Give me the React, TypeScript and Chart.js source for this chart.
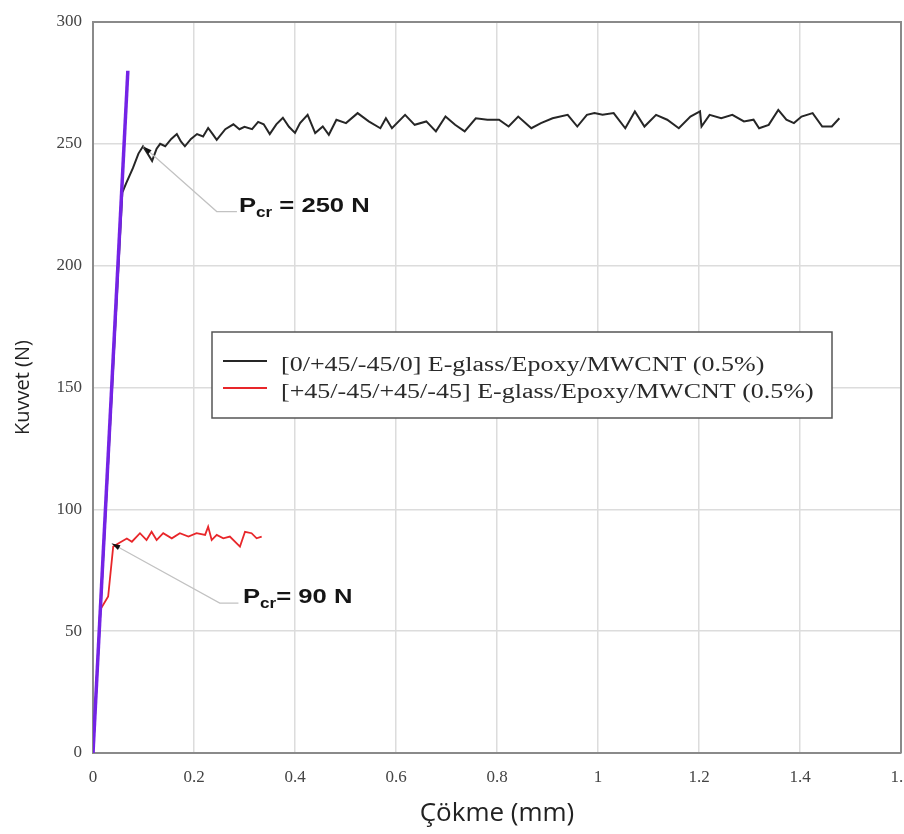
import { useEffect, useRef } from 'react';
import { Chart, registerables } from 'chart.js';

Chart.register(...registerables);

// ---- Data ----
const seriesLabels = [
  '[0/+45/-45/0] E-glass/Epoxy/MWCNT (0.5%)',
  '[+45/-45/+45/-45] E-glass/Epoxy/MWCNT (0.5%)',
];

const blackX = [
  0, 0.058, 0.066, 0.079, 0.09, 0.099, 0.108, 0.117, 0.126, 0.133, 0.143, 0.155, 0.166, 0.174, 0.182,
  0.194, 0.206, 0.218, 0.228, 0.237, 0.245, 0.262, 0.278, 0.29, 0.3, 0.315, 0.327, 0.338, 0.35, 0.363,
  0.376, 0.388, 0.4, 0.41, 0.425, 0.44, 0.455, 0.467, 0.482, 0.501, 0.524, 0.546, 0.569, 0.58, 0.592,
  0.618, 0.637, 0.66, 0.679, 0.698, 0.717, 0.736, 0.758, 0.781, 0.804, 0.823, 0.842, 0.868, 0.887,
  0.91, 0.94, 0.959, 0.978, 0.993, 1.009, 1.031, 1.054, 1.073, 1.092, 1.115, 1.137, 1.16, 1.183,
  1.202, 1.205, 1.221, 1.244, 1.266, 1.289, 1.308, 1.319, 1.338, 1.357, 1.373, 1.388, 1.403, 1.425,
  1.444, 1.463, 1.478,
];
const blackY = [
  0, 230, 234, 240, 246, 249, 246, 243, 248, 250, 249, 252, 254, 251, 249,
  252, 254, 253, 256.5, 254, 251.6, 256, 258, 256, 257, 256, 259, 258, 254, 258,
  260.7, 257, 254.5, 258.5, 261.9, 254.4, 257.1, 253.7, 259.9, 258.5, 262.6, 259.2, 256.4, 260.5, 256.4,
  261.9, 257.8, 259.2, 255.1, 261.2, 257.8, 255.1, 260.5, 259.9, 259.9, 257.1, 261.2, 256.4, 258.5,
  260.5, 261.9, 257.1, 261.9, 262.6, 261.9, 262.6, 256.4, 263.3, 257.1, 261.9, 259.9, 256.4, 261.2,
  263.3, 257.1, 261.9, 260.5, 261.9, 259.2, 259.9, 256.4, 257.8, 263.9, 259.9, 258.5, 261.2, 262.6,
  257.1, 257.1, 260.5,
];

const redX = [
  0, 0.014, 0.03, 0.04, 0.05, 0.067, 0.077, 0.093, 0.106, 0.116, 0.126, 0.139, 0.156, 0.172, 0.189,
  0.205, 0.222, 0.228, 0.235, 0.245, 0.258, 0.271, 0.291, 0.301, 0.314, 0.324, 0.334,
];
const redY = [
  0, 58.7, 64.2, 84.7, 86, 88, 86.7, 90.2, 87.4, 90.8, 87.4, 90.2, 88.1, 90.2, 88.8,
  90.2, 89.5, 92.9, 87.4, 89.5, 88.1, 88.8, 84.7, 90.8, 90.2, 88.1, 88.8,
];

// linear (initial slope) fit line
const fitX = [0, 0.069];
const fitY = [0, 280];

// annotations: P_cr labels with leader lines (data coordinates)
const annMain = ['P', 'P'];
const annSub = ['cr', 'cr'];
const annRest = [' = 250 N', '= 90 N'];
const annTipX = [0.0997, 0.037];
const annTipY = [248.9, 86];
const annElbowX = [0.245, 0.251];
const annElbowY = [222.2, 61.5];
const annEndX = [0.285, 0.288];
const annTextX = [0.289, 0.297];

const toPoints = (xs: number[], ys: number[]) => xs.map((x, i) => ({ x, y: ys[i] }));

const framePlugin = {
  id: 'frame',
  beforeDatasetsDraw(chart: any) {
    const { ctx, chartArea: a } = chart;
    ctx.save();
    ctx.strokeStyle = '#8a8a8a';
    ctx.lineWidth = 2;
    ctx.beginPath();
    ctx.moveTo(a.left, a.top);
    ctx.lineTo(a.right, a.top);
    ctx.lineTo(a.right, a.bottom);
    ctx.stroke();
    ctx.restore();
  },
};

const annotationPlugin = {
  id: 'pcrAnnotations',
  afterDatasetsDraw(chart: any) {
    const { ctx } = chart;
    const xs = chart.scales.x;
    const ys = chart.scales.y;
    for (let i = 0; i < annMain.length; i++) {
      const tx = xs.getPixelForValue(annTipX[i]);
      const ty = ys.getPixelForValue(annTipY[i]);
      const ex = xs.getPixelForValue(annElbowX[i]);
      const ey = ys.getPixelForValue(annElbowY[i]);
      const nx = xs.getPixelForValue(annEndX[i]);
      const lx = xs.getPixelForValue(annTextX[i]);
      ctx.save();
      ctx.strokeStyle = '#c2c2c2';
      ctx.lineWidth = 1.2;
      ctx.beginPath();
      ctx.moveTo(tx, ty);
      ctx.lineTo(ex, ey);
      ctx.lineTo(nx, ey);
      ctx.stroke();
      // arrow head at tip
      const ang = Math.atan2(ty - ey, tx - ex);
      const len = 9;
      ctx.fillStyle = '#111';
      ctx.beginPath();
      ctx.moveTo(tx, ty);
      ctx.lineTo(tx - len * Math.cos(ang - 0.3), ty - len * Math.sin(ang - 0.3));
      ctx.lineTo(tx - len * Math.cos(ang + 0.3), ty - len * Math.sin(ang + 0.3));
      ctx.closePath();
      ctx.fill();
      // label
      ctx.translate(lx, ey);
      ctx.scale(1.22, 1);
      ctx.fillStyle = '#151515';
      ctx.textBaseline = 'alphabetic';
      ctx.textAlign = 'left';
      ctx.font = 'bold 21px "Liberation Sans", Arial, sans-serif';
      ctx.fillText(annMain[i], 0, 0);
      let w = ctx.measureText(annMain[i]).width;
      ctx.font = 'bold 14px "Liberation Sans", Arial, sans-serif';
      ctx.fillText(annSub[i], w, 5);
      w += ctx.measureText(annSub[i]).width;
      ctx.font = 'bold 21px "Liberation Sans", Arial, sans-serif';
      ctx.fillText(annRest[i], w, 0);
      ctx.restore();
    }
  },
};

const legendPlugin = {
  id: 'boxLegend',
  afterDatasetsDraw(chart: any) {
    const { ctx } = chart;
    const box = { left: 212, top: 332, width: 620, height: 86 };
    ctx.save();
    ctx.fillStyle = '#fff';
    ctx.fillRect(box.left, box.top, box.width, box.height);
    ctx.strokeStyle = '#555';
    ctx.lineWidth = 1.5;
    ctx.strokeRect(box.left, box.top, box.width, box.height);
    const entries = chart.data.datasets.filter((d: any) => !d.hideInLegend);
    entries.forEach((d: any, i: number) => {
      const y = box.top + 29 + i * 27;
      ctx.strokeStyle = d.borderColor;
      ctx.lineWidth = 2;
      ctx.beginPath();
      ctx.moveTo(box.left + 11, y);
      ctx.lineTo(box.left + 55, y);
      ctx.stroke();
      ctx.save();
      ctx.translate(box.left + 69, y + 10);
      ctx.scale(1.3, 1);
      ctx.font = '20px "Liberation Serif", "Times New Roman", serif';
      ctx.fillStyle = '#2a2a2a';
      ctx.textBaseline = 'alphabetic';
      ctx.fillText(d.label, 0, 0);
      ctx.restore();
    });
    ctx.restore();
  },
};

export default function App() {
  const ref = useRef<HTMLCanvasElement>(null);

  useEffect(() => {
    if (!ref.current) return;
    const tickFont = { family: '"Liberation Serif", "Times New Roman", serif', size: 17 };
    const chart = new Chart(ref.current, {
      type: 'line',
      data: {
        datasets: [
          {
            label: 'Linear fit',
            data: toPoints(fitX, fitY),
            borderColor: '#7423e6',
            borderWidth: 3.5,
            pointRadius: 0,
            order: 0,
            hideInLegend: true,
          } as any,
          {
            label: seriesLabels[0],
            data: toPoints(blackX, blackY),
            borderColor: '#262626',
            borderWidth: 2,
            pointRadius: 0,
            tension: 0,
            order: 1,
          },
          {
            label: seriesLabels[1],
            data: toPoints(redX, redY),
            borderColor: '#e8262a',
            borderWidth: 1.8,
            pointRadius: 0,
            tension: 0,
            order: 2,
          },
        ],
      },
      options: {
        animation: false,
        responsive: false,
        devicePixelRatio: 1,
        layout: { padding: { left: 0, top: 22, right: 59, bottom: 0 } },
        plugins: {
          legend: { display: false },
          tooltip: { enabled: false },
          title: { display: false },
        },
        scales: {
          x: {
            type: 'linear',
            min: 0,
            max: 1.6,
            ticks: {
              stepSize: 0.2,
              font: tickFont,
              color: '#444',
              padding: 14,
              maxRotation: 0,
              autoSkip: false,
              callback: (v: any) => String(Number(Number(v).toFixed(1))),
            },
            grid: { color: '#dcdcdc', lineWidth: 1.5, drawTicks: false },
            border: { color: '#8a8a8a', width: 2 },
            title: {
              display: true,
              text: 'Çökme (mm)',
              font: { family: '"Open Sans", sans-serif', size: 26 },
              color: '#222',
              padding: { top: 0, bottom: 5 },
            },
            afterFit: (s: any) => {
              s.height = 81;
            },
          },
          y: {
            type: 'linear',
            min: 0,
            max: 300,
            ticks: { stepSize: 50, font: tickFont, color: '#444', padding: 11 },
            grid: { color: '#dcdcdc', lineWidth: 1.5, drawTicks: false },
            border: { color: '#8a8a8a', width: 2 },
            title: {
              display: true,
              text: 'Kuvvet (N)',
              font: { family: '"Open Sans", sans-serif', size: 20 },
              color: '#222',
              padding: { top: 11, bottom: 0 },
            },
            afterFit: (s: any) => {
              s.width = 93;
            },
          },
        },
      },
      plugins: [framePlugin, annotationPlugin, legendPlugin],
    });
    return () => chart.destroy();
  }, []);

  return (
    <div
      style={{
        position: 'fixed',
        left: 0,
        top: 0,
        width: 904,
        height: 834,
        overflow: 'hidden',
        background: '#fff',
      }}
    >
      <canvas ref={ref} width={960} height={834} style={{ width: 960, height: 834, display: 'block' }} />
    </div>
  );
}
